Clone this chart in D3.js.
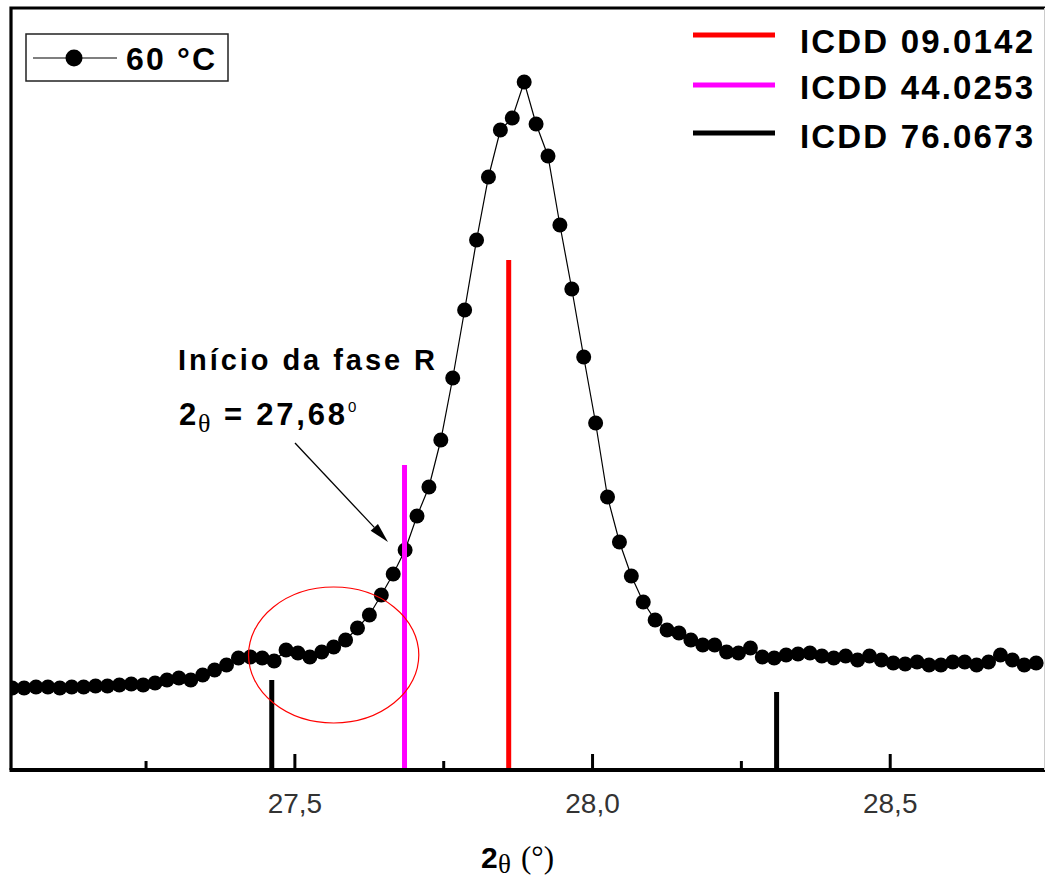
<!DOCTYPE html>
<html>
<head>
<meta charset="utf-8">
<script src="https://cdn.jsdelivr.net/npm/d3@7"></script>
<style>
  html, body { margin: 0; padding: 0; background: #fff; }
  svg { display: block; }
</style>
</head>
<body>
<svg id="chart" width="1045" height="882"></svg>
<script>
// ---- data ----
const twoTheta = [
  27.026, 27.046, 27.066, 27.086, 27.106, 27.126, 27.146, 27.166, 27.186, 27.206,
  27.226, 27.246, 27.266, 27.286, 27.306, 27.326, 27.346, 27.366, 27.386, 27.406,
  27.426, 27.446, 27.466, 27.486, 27.506, 27.526, 27.546, 27.566, 27.586, 27.606,
  27.626, 27.646, 27.666, 27.686, 27.706, 27.726, 27.746, 27.766, 27.786, 27.806,
  27.826, 27.846, 27.866, 27.886, 27.906, 27.926, 27.946, 27.966, 27.986, 28.006,
  28.026, 28.046, 28.066, 28.086, 28.106, 28.126, 28.146, 28.166, 28.186, 28.206,
  28.226, 28.246, 28.266, 28.286, 28.306, 28.326, 28.346, 28.366, 28.386, 28.406,
  28.426, 28.446, 28.466, 28.486, 28.506, 28.526, 28.546, 28.566, 28.586, 28.606,
  28.626, 28.646, 28.666, 28.686, 28.706, 28.726, 28.746
];
const intensity60 = [
  82, 82, 83, 83, 82, 83, 83, 84, 84, 85,
  86, 85, 87, 90, 92, 90, 95, 100, 105, 112,
  113, 112, 109, 120, 117, 113, 118, 123, 130, 142,
  155, 175, 196, 220, 254, 283, 330, 392, 460, 530,
  593, 640, 652, 688, 646, 614, 545, 481, 413, 347,
  273, 228, 194, 168, 150, 140, 137, 130, 125, 125,
  118, 117, 122, 113, 112, 115, 116, 117, 114, 112,
  114, 110, 114, 110, 107, 106, 108, 105, 105, 108,
  108, 105, 108, 115, 110, 105, 107
];
const seriesLabel = "60 °C";

const refNames = ["ICDD 09.0142", "ICDD 44.0253", "ICDD 76.0673"];
const refColors = ["#ff0000", "#ff00ff", "#000000"];
const refPositions = [[27.86], [27.685], [27.462, 28.31]];
const refHeights = [[510], [305], [90, 78]];

const majorTicks = [27.5, 28.0, 28.5];
const minorTicks = [27.25, 27.75, 28.25];
const xDomain = [27.024, 28.76];
const yDomain = [0, 762];

const annotationLine1 = "Início da fase R";
const annotationValue = "27,68";

// ---- layout ----
const svg = d3.select("#chart");
const pLeft = 11, pRight = 1044.5, pTop = 8, pBottom = 770;
const x = d3.scaleLinear().domain(xDomain).range([pLeft, pRight]);
const y = d3.scaleLinear().domain(yDomain).range([pBottom, pTop]);
const sans = "Arial, 'Liberation Sans', sans-serif";
const serif = "'Times New Roman', 'Liberation Serif', serif";

svg.append("defs").append("clipPath").attr("id", "plotclip")
  .append("rect").attr("x", pLeft).attr("y", pTop).attr("width", 1045 - pLeft).attr("height", pBottom - pTop);

// data line + markers
const pts = twoTheta.map((t, i) => [t, intensity60[i]]);
const gData = svg.append("g").attr("clip-path", "url(#plotclip)");
gData.append("path")
  .datum(pts)
  .attr("fill", "none").attr("stroke", "#000").attr("stroke-width", 1.2)
  .attr("d", d3.line().x(d => x(d[0])).y(d => y(d[1])));
gData.selectAll("circle.pt").data(pts).join("circle")
  .attr("class", "pt")
  .attr("cx", d => x(d[0])).attr("cy", d => y(d[1])).attr("r", 7.5)
  .attr("fill", "#000");

// reference lines
refNames.forEach((name, k) => {
  refPositions[k].forEach((p, j) => {
    svg.append("line")
      .attr("x1", x(p)).attr("x2", x(p))
      .attr("y1", y(0)).attr("y2", y(refHeights[k][j]))
      .attr("stroke", refColors[k]).attr("stroke-width", 5);
  });
});

// red ellipse annotation
const ell = { cx: 27.566, cy: 115, rx: 0.143, ry: 68 };
svg.append("ellipse")
  .attr("cx", x(ell.cx)).attr("cy", y(ell.cy))
  .attr("rx", x(ell.cx + ell.rx) - x(ell.cx))
  .attr("ry", y(0) - y(ell.ry))
  .attr("fill", "none").attr("stroke", "#ff0000").attr("stroke-width", 1.2);

// axis ticks (inward)
const gx = svg.append("g").attr("transform", `translate(0,${pBottom})`);
gx.call(d3.axisBottom(x).tickValues(majorTicks).tickSizeInner(-16).tickSizeOuter(0).tickPadding(23)
  .tickFormat(d => d3.format(".1f")(d).replace(".", ",")));
gx.select(".domain").remove();
gx.selectAll(".tick line").attr("stroke", "#000").attr("stroke-width", 3);
gx.selectAll(".tick text").attr("font-family", sans).attr("font-size", 28).attr("fill", "#333");
const gxm = svg.append("g").attr("transform", `translate(0,${pBottom})`);
gxm.call(d3.axisBottom(x).tickValues(minorTicks).tickSizeInner(-9).tickSizeOuter(0).tickFormat(""));
gxm.select(".domain").remove();
gxm.selectAll(".tick line").attr("stroke", "#000").attr("stroke-width", 3);

// frame
svg.append("path")
  .attr("d", `M${pLeft},${pBottom} L${pLeft},${pTop} L1045,${pTop}`)
  .attr("fill", "none").attr("stroke", "#000").attr("stroke-width", 3.2);
svg.append("line").attr("x1", pLeft - 1.5).attr("x2", 1045).attr("y1", pBottom).attr("y2", pBottom)
  .attr("stroke", "#000").attr("stroke-width", 4);
svg.append("line").attr("x1", 1044.5).attr("x2", 1044.5).attr("y1", pTop).attr("y2", pBottom)
  .attr("stroke", "#cccccc").attr("stroke-width", 1);

// x axis title: 2θ (°)
const xt = svg.append("text").attr("y", 868).attr("fill", "#000");
xt.append("tspan").attr("x", 481).attr("font-family", sans).attr("font-weight", "bold").attr("font-size", 30).text("2");
xt.append("tspan").attr("x", 498).attr("dy", 5).attr("font-family", serif).attr("font-size", 27).text("θ");
xt.append("tspan").attr("x", 521).attr("dy", -5).attr("font-family", serif).attr("font-size", 31).text("(°)");

// left legend
const lg = svg.append("g");
lg.append("rect").attr("x", 26).attr("y", 34).attr("width", 202).attr("height", 47)
  .attr("fill", "#fff").attr("stroke", "#222").attr("stroke-width", 1.5);
lg.append("line").attr("x1", 33).attr("x2", 117).attr("y1", 58).attr("y2", 58)
  .attr("stroke", "#000").attr("stroke-width", 1.2);
lg.append("circle").attr("cx", 74).attr("cy", 58).attr("r", 8.5).attr("fill", "#000");
lg.append("text").attr("x", 126).attr("y", 70).attr("font-family", sans).attr("font-weight", "bold")
  .attr("font-size", 32).attr("textLength", 89).attr("lengthAdjust", "spacing").text(seriesLabel);

// right legend
const rl = svg.append("g");
const legY = [35, 85, 133];
const legBase = [53, 99, 148];
refNames.forEach((name, k) => {
  rl.append("line").attr("x1", 693).attr("x2", 775).attr("y1", legY[k]).attr("y2", legY[k])
    .attr("stroke", refColors[k]).attr("stroke-width", 5);
  rl.append("text").attr("x", 800).attr("y", legBase[k]).attr("font-family", sans)
    .attr("font-weight", "bold").attr("font-size", 33)
    .attr("textLength", 233).attr("lengthAdjust", "spacing").text(name);
});

// annotation text
svg.append("text").attr("x", 178).attr("y", 370).attr("font-family", sans)
  .attr("font-weight", "bold").attr("font-size", 29)
  .attr("textLength", 257).attr("lengthAdjust", "spacing").text(annotationLine1);
const ann = svg.append("g");
ann.append("text").attr("x", 179).attr("y", 425).attr("font-family", sans).attr("font-weight", "bold")
  .attr("font-size", 31).text("2");
ann.append("text").attr("x", 198).attr("y", 432).attr("font-family", serif)
  .attr("font-size", 26).text("θ");
ann.append("text").attr("x", 224).attr("y", 425).attr("font-family", sans).attr("font-weight", "bold")
  .attr("font-size", 31).attr("textLength", 121).attr("lengthAdjust", "spacing").text("= " + annotationValue);
ann.append("text").attr("x", 348).attr("y", 412).attr("font-family", sans)
  .attr("font-size", 15).text("0");

// arrow
const arrFrom = [x.invert(295), y.invert(443)];
const arrTo = [x.invert(388), y.invert(542)];
const xa = x(arrFrom[0]), ya = y(arrFrom[1]), xb = x(arrTo[0]), yb = y(arrTo[1]);
const ang = Math.atan2(yb - ya, xb - xa);
const hl = 20, hw = 5;
const bx = xb - hl * Math.cos(ang), by = yb - hl * Math.sin(ang);
svg.append("line").attr("x1", xa).attr("y1", ya).attr("x2", bx).attr("y2", by)
  .attr("stroke", "#000").attr("stroke-width", 1.3);
svg.append("path")
  .attr("d", `M${xb},${yb} L${bx + hw * Math.sin(ang)},${by - hw * Math.cos(ang)} L${bx - hw * Math.sin(ang)},${by + hw * Math.cos(ang)} Z`)
  .attr("fill", "#000");
</script>
</body>
</html>
